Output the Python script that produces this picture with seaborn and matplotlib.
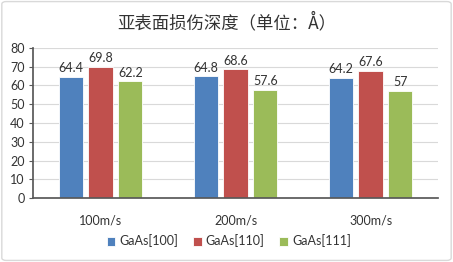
import matplotlib
matplotlib.use('Agg')
import matplotlib.pyplot as plt
import pandas as pd
import seaborn as sns
from matplotlib.patches import FancyBboxPatch

speeds = ['100m/s', '200m/s', '300m/s']
series = ['GaAs[100]', 'GaAs[110]', 'GaAs[111]']
gaas_100 = [64.4, 64.8, 64.2]
gaas_110 = [69.8, 68.6, 67.6]
gaas_111 = [62.2, 57.6, 57]
colors = ['#4F81BD', '#C0504D', '#9BBB59']

sns.set_theme(style='white')
plt.rcParams['font.family'] = ['Lato', 'Noto Sans CJK SC', 'DejaVu Sans']

df = pd.DataFrame({
    'Speed': speeds * 3,
    'Series': [s for s in series for _ in speeds],
    'Depth': gaas_100 + gaas_110 + gaas_111,
})

fig = plt.figure(figsize=(4.53, 2.62), dpi=100)
ax = fig.add_axes([0.073, 0.244, 0.894, 0.573])

g = sns.barplot(data=df, x='Speed', y='Depth', hue='Series', hue_order=series,
                palette=colors, width=0.66, gap=0.18, edgecolor='white',
                linewidth=0.6, saturation=1, ax=ax, legend=True)

for cont in ax.containers:
    ax.bar_label(cont, labels=[f'{v:g}' for v in cont.datavalues], padding=2,
                 fontsize=9, color='#333333')

ax.set_ylim(0, 80)
ax.set_yticks(range(0, 81, 10))
ax.yaxis.grid(True, color='#D9D9D9', linewidth=0.8)
ax.set_axisbelow(True)
ax.set_xlabel('')
ax.set_ylabel('')
for s in ['top', 'right']:
    ax.spines[s].set_visible(False)
ax.spines['left'].set_color('#595959')
ax.spines['bottom'].set_color('#595959')
ax.tick_params(axis='y', left=True, length=3, width=0.8, color='#595959',
               labelsize=9, labelcolor='#333333', pad=3)
ax.tick_params(axis='x', bottom=False, labelsize=9, labelcolor='#333333', pad=6)

handles, labels = ax.get_legend_handles_labels()
ax.get_legend().remove()
fig.legend(handles, labels, loc='center', bbox_to_anchor=(0.505, 0.08), ncol=3,
           frameon=False, fontsize=9, handlelength=0.7, handleheight=0.7,
           handletextpad=0.3, columnspacing=1.2, labelcolor='#333333')

fig.text(0.5, 0.915, '亚表面损伤深度（单位：Å）', ha='center', va='center',
         fontsize=12.5, color='#333333', family=['Noto Sans CJK SC', 'DejaVu Sans'])

border = FancyBboxPatch((0.004, 0.006), 0.992, 0.988, boxstyle='round,pad=0,rounding_size=0.01',
                        transform=fig.transFigure, fill=False, edgecolor='#D9D9D9', linewidth=1)
fig.patches.append(border)

fig.savefig('out.png', dpi=100)
